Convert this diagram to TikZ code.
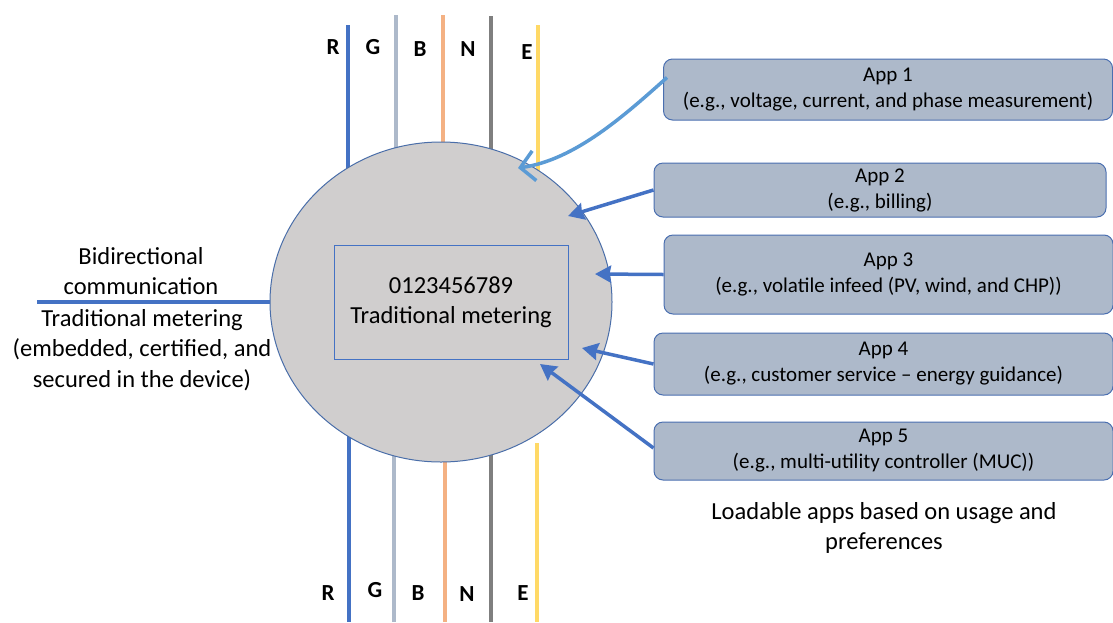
\documentclass[tikz,border=0pt]{standalone}
\usepackage{fontspec}
\setmainfont{Carlito}
\usepackage{xcolor}
\usepackage{tikz}
\usetikzlibrary{shapes.geometric, arrows.meta, positioning, calc, backgrounds}

\definecolor{wireR}{HTML}{4472C4}
\definecolor{wireG}{HTML}{ADB9CA}
\definecolor{wireB}{HTML}{F4B183}
\definecolor{wireN}{HTML}{7F7F7F}
\definecolor{wireE}{HTML}{FFD966}
\definecolor{meterfill}{HTML}{D0CECE}
\definecolor{meterline}{HTML}{4A6EA9}
\definecolor{appfill}{HTML}{ADB9CA}
\definecolor{appline}{HTML}{4A6FB0}
\definecolor{applight}{HTML}{5B9BD5}

\begin{document}
\begin{tikzpicture}[
    x=1pt, y=-1pt,
    app/.style={draw=appline, fill=appfill, line width=1pt, rounded corners=9pt, align=center, inner sep=0pt, font=\fontsize{21}{26}\selectfont},
    txt/.style={align=center, inner sep=0pt, font=\fontsize{24.5}{30.5}\selectfont},
    lbl/.style={inner sep=0pt, font=\fontsize{23}{23}\selectfont\bfseries},
    wire/.style={line width=4pt},
    arr/.style={-{Stealth[length=16pt, width=17pt, inset=1.5pt]}, line width=3.5pt, draw=wireR},
]

\useasboundingbox (0,0) rectangle (1113,622);

\node[ellipse, draw=meterline, fill=meterfill, line width=1pt, minimum width=342pt, minimum height=320pt] (meter) at (441,302) {};
\node[txt, draw=wireR, line width=1pt, minimum width=234pt, minimum height=114pt, font=\fontsize{24.5}{30}\selectfont] (display) at (451,302) {0123456789\\Traditional metering};

\begin{scope}[on background layer]
\foreach \x/\top/\col in {348/25/wireR, 396/15/wireG, 443/15/wireB, 491/16/wireN, 538/25/wireE}
    \draw[wire, \col] (\x,\top) -- (\x,302);
\foreach \x/\bot/\col in {349/302/wireR, 394/302/wireG, 445/302/wireB, 491/302/wireN, 537/443/wireE}
    \draw[wire, \col] (\x,\bot) -- (\x,622);
\end{scope}

\foreach \n/\x/\y in {R/333/47, G/373/47, B/420/49, N/468/49, E/527/52}
    \node[lbl] (top\n) at (\x,\y) {\n};
\foreach \n/\x/\y in {R/328/593, G/375/590, B/418/593, N/467/594, E/523/593}
    \node[lbl] (bot\n) at (\x,\y) {\n};

\coordinate (commEnd) at (37,302);
\draw[wire, wireR] (commEnd) -- (meter.west);
\node[txt] (commLbl) at (141,271) {Bidirectional\\communication};
\node[txt] (tradLbl) at (142,350) {Traditional metering\\(embedded, certified, and\\secured in the device)};

\node[app, minimum width=449pt, minimum height=61pt] (app1) at (888,89.5) {App 1\\(e.g., voltage, current, and phase measurement)};
\node[app, minimum width=452pt, minimum height=54pt] (app2) at (880,190) {App 2\\(e.g., billing)};
\node[app, minimum width=449pt, minimum height=79pt] (app3) at (888.5,274.5) {App 3\\(e.g., volatile infeed (PV, wind, and CHP))};
\node[app, minimum width=459pt, minimum height=62pt] (app4) at (883.5,364) {App 4\\(e.g., customer service -- energy guidance)};
\node[app, minimum width=459pt, minimum height=58pt] (app5) at (883.5,451) {App 5\\(e.g., multi-utility controller (MUC))};

\node[txt, font=\fontsize{24.5}{30}\selectfont] (caption) at (884,528) {Loadable apps based on usage and\\preferences};

\coordinate (tip1) at (518,168);
\coordinate (tip2) at (568,216);
\coordinate (tip3) at (595,274);
\coordinate (tip4) at (582,348);
\coordinate (tip5) at (540,364);

\draw[line width=3.5pt, applight, -{Straight Barb[length=14pt, width=30pt]}] ($(app1.west)+(4,-12)$) .. controls (625,115) and (575,160) .. (tip1);
\draw[arr] (app2.west) -- (tip2);
\draw[arr] (app3.west) -- (tip3);
\draw[arr] (app4.west) -- (tip4);
\draw[arr] ($(app5.west)+(0,-3)$) -- (tip5);

\end{tikzpicture}
\end{document}
